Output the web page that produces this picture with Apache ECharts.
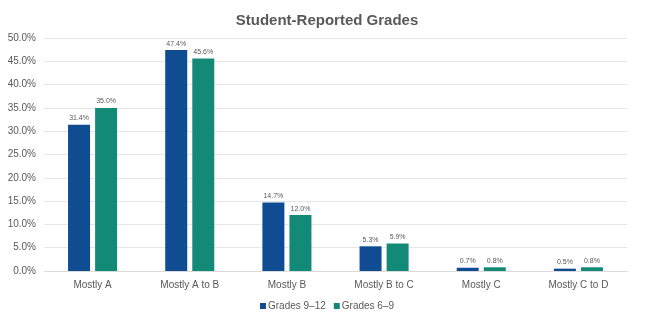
<!DOCTYPE html>
<html><head><meta charset="utf-8">
<script src="https://cdn.jsdelivr.net/npm/echarts@6/dist/echarts.min.js"></script>
<style>html,body{margin:0;padding:0;background:#fff}#c{width:654px;height:323px}</style>
</head><body><div id="c"></div>
<script>
const categories = ["Mostly A","Mostly A to B","Mostly B","Mostly B to C","Mostly C","Mostly C to D"];
const grades912 = [31.4,47.4,14.7,5.3,0.7,0.5];
const grades69 = [35.0,45.6,12.0,5.9,0.8,0.8];
const seriesNames = ["Grades 9\u201312","Grades 6\u20139"];
const chart = echarts.init(document.getElementById('c'));
const lbl = {show:true,position:'top',distance:3,fontSize:7,color:'#595959',fontFamily:'Liberation Sans',formatter:p=>p.value.toFixed(1)+'%'};
chart.setOption({
  animation:false,
  title:{text:'Student-Reported Grades',left:'center',top:8,textStyle:{fontSize:15,fontWeight:'bold',color:'#595959',fontFamily:'Liberation Sans'}},
  legend:{bottom:7,left:'center',itemWidth:6,itemHeight:6,itemGap:8,icon:'rect',textStyle:{fontSize:10,color:'#595959',fontFamily:'Liberation Sans',padding:[0,0,0,-3]}},
  grid:{left:44,right:27,top:38,bottom:52},
  xAxis:{type:'category',data:categories,axisTick:{show:false},axisLine:{lineStyle:{color:'#d9d9d9'}},axisLabel:{fontSize:10,color:'#595959',fontFamily:'Liberation Sans',margin:9}},
  yAxis:{type:'value',min:0,max:50,interval:5,axisLabel:{fontSize:10,color:'#595959',fontFamily:'Liberation Sans',formatter:v=>v.toFixed(1)+'%',margin:8},splitLine:{lineStyle:{color:'#e6e6e6'}},axisLine:{show:false},axisTick:{show:false}},
  series:[
    {name:seriesNames[0],type:'bar',data:grades912,barWidth:22,barGap:'23%',itemStyle:{color:'#0f4c92'},label:lbl},
    {name:seriesNames[1],type:'bar',data:grades69,barWidth:22,itemStyle:{color:'#138a78'},label:lbl}
  ]
});
</script></body></html>
